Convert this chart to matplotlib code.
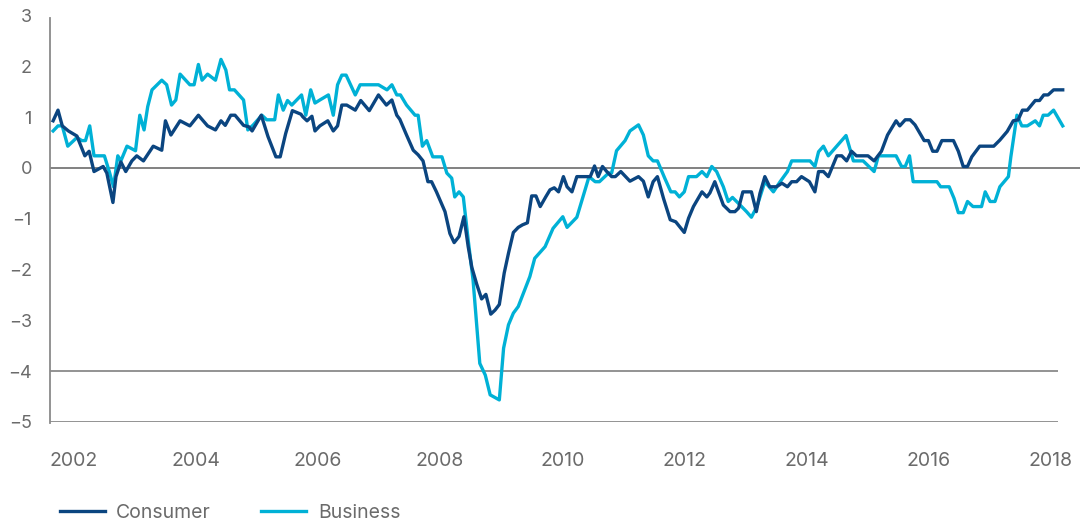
import numpy as np
import matplotlib
matplotlib.use("Agg")
import matplotlib.pyplot as plt

plt.rcParams['font.family'] = ['Inter', 'DejaVu Sans']

# consumer confidence (standardised) as (decimal year, value)
consumer_t = [2001.66, 2001.74, 2001.81, 2001.91, 2002.05, 2002.18, 2002.25, 2002.33, 2002.48, 2002.54,
              2002.64, 2002.69, 2002.77, 2002.85, 2002.95, 2003.03, 2003.14, 2003.30, 2003.44, 2003.50,
              2003.59, 2003.74, 2003.90, 2004.04, 2004.19, 2004.32, 2004.41, 2004.48, 2004.57, 2004.64,
              2004.78, 2004.87, 2004.92, 2005.07, 2005.18, 2005.31, 2005.38, 2005.47, 2005.58, 2005.72,
              2005.75, 2005.82, 2005.90, 2005.95, 2006.03, 2006.16, 2006.25, 2006.32, 2006.39, 2006.47,
              2006.61, 2006.70, 2006.84, 2006.99, 2007.12, 2007.21, 2007.29, 2007.34, 2007.45, 2007.56,
              2007.64, 2007.72, 2007.80, 2007.86, 2007.94, 2008.08, 2008.16, 2008.23, 2008.31, 2008.39,
              2008.46, 2008.52, 2008.60, 2008.68, 2008.75, 2008.83, 2008.90, 2008.97, 2009.05, 2009.12,
              2009.20, 2009.28, 2009.35, 2009.43, 2009.50, 2009.57, 2009.64, 2009.73, 2009.80, 2009.87,
              2009.94, 2010.02, 2010.08, 2010.16, 2010.24, 2010.46, 2010.53, 2010.59, 2010.66, 2010.73,
              2010.81, 2010.87, 2010.96, 2011.11, 2011.25, 2011.33, 2011.41, 2011.49, 2011.56, 2011.66,
              2011.77, 2011.86, 2012.00, 2012.07, 2012.15, 2012.29, 2012.37, 2012.42, 2012.50, 2012.64,
              2012.75, 2012.83, 2012.89, 2012.96, 2013.10, 2013.18, 2013.24, 2013.32, 2013.40, 2013.51,
              2013.60, 2013.69, 2013.76, 2013.84, 2013.92, 2014.05, 2014.14, 2014.20, 2014.28, 2014.36,
              2014.50, 2014.58, 2014.66, 2014.74, 2014.82, 2015.01, 2015.11, 2015.23, 2015.33, 2015.47,
              2015.53, 2015.62, 2015.70, 2015.78, 2015.93, 2016.00, 2016.07, 2016.14, 2016.22, 2016.41,
              2016.49, 2016.57, 2016.64, 2016.71, 2016.84, 2017.07, 2017.17, 2017.29, 2017.39, 2017.47,
              2017.54, 2017.62, 2017.75, 2017.82, 2017.89, 2017.96, 2018.05, 2018.20]
consumer_v = [0.93, 1.14, 0.83, 0.73, 0.63, 0.24, 0.33, -0.07, 0.03, -0.10,
              -0.68, -0.17, 0.12, -0.07, 0.14, 0.24, 0.14, 0.43, 0.35, 0.93,
              0.65, 0.93, 0.83, 1.04, 0.83, 0.75, 0.93, 0.84, 1.04, 1.04,
              0.84, 0.81, 0.73, 1.04, 0.62, 0.22, 0.22, 0.68, 1.13, 1.06,
              1.01, 0.93, 1.02, 0.73, 0.83, 0.93, 0.73, 0.83, 1.24, 1.24,
              1.14, 1.33, 1.13, 1.44, 1.24, 1.34, 1.04, 0.96, 0.65, 0.35,
              0.26, 0.14, -0.27, -0.27, -0.47, -0.86, -1.29, -1.47, -1.35, -0.96,
              -1.55, -1.96, -2.29, -2.58, -2.49, -2.88, -2.80, -2.69, -2.07, -1.68,
              -1.27, -1.17, -1.12, -1.08, -0.55, -0.55, -0.76, -0.57, -0.43, -0.39,
              -0.47, -0.17, -0.37, -0.47, -0.17, -0.17, 0.04, -0.17, 0.03, -0.07,
              -0.17, -0.17, -0.07, -0.26, -0.17, -0.26, -0.57, -0.27, -0.17, -0.60,
              -1.02, -1.06, -1.27, -0.99, -0.76, -0.47, -0.57, -0.49, -0.27, -0.73,
              -0.86, -0.86, -0.79, -0.47, -0.47, -0.86, -0.50, -0.17, -0.37, -0.37,
              -0.30, -0.37, -0.27, -0.27, -0.17, -0.27, -0.47, -0.07, -0.07, -0.17,
              0.24, 0.24, 0.14, 0.33, 0.24, 0.24, 0.14, 0.33, 0.65, 0.93,
              0.83, 0.95, 0.95, 0.85, 0.54, 0.54, 0.33, 0.33, 0.54, 0.54,
              0.33, 0.03, 0.03, 0.22, 0.43, 0.43, 0.55, 0.72, 0.93, 0.95,
              1.14, 1.14, 1.33, 1.33, 1.44, 1.44, 1.54, 1.54]

# business confidence
business_t = [2001.66, 2001.74, 2001.81, 2001.90, 2002.05, 2002.13, 2002.19, 2002.26, 2002.33, 2002.50,
              2002.58, 2002.65, 2002.72, 2002.77, 2002.87, 2003.01, 2003.08, 2003.15, 2003.21, 2003.28,
              2003.44, 2003.52, 2003.60, 2003.67, 2003.74, 2003.90, 2003.97, 2004.04, 2004.10, 2004.19,
              2004.32, 2004.41, 2004.49, 2004.55, 2004.63, 2004.78, 2004.85, 2004.94, 2005.08, 2005.16,
              2005.29, 2005.35, 2005.43, 2005.50, 2005.57, 2005.73, 2005.80, 2005.88, 2005.95, 2006.03,
              2006.17, 2006.25, 2006.32, 2006.39, 2006.46, 2006.61, 2006.69, 2006.99, 2007.13, 2007.21,
              2007.29, 2007.35, 2007.45, 2007.59, 2007.64, 2007.71, 2007.78, 2007.88, 2008.03, 2008.11,
              2008.19, 2008.24, 2008.31, 2008.38, 2008.46, 2008.54, 2008.65, 2008.74, 2008.82, 2008.97,
              2009.04, 2009.12, 2009.20, 2009.28, 2009.47, 2009.55, 2009.72, 2009.85, 2010.01, 2010.08,
              2010.24, 2010.35, 2010.44, 2010.54, 2010.61, 2010.76, 2010.81, 2010.89, 2011.03, 2011.11,
              2011.25, 2011.33, 2011.41, 2011.49, 2011.56, 2011.68, 2011.78, 2011.85, 2011.92, 2012.00,
              2012.07, 2012.20, 2012.29, 2012.37, 2012.45, 2012.53, 2012.64, 2012.72, 2012.79, 2012.89,
              2013.02, 2013.10, 2013.19, 2013.32, 2013.46, 2013.57, 2013.69, 2013.76, 2014.06, 2014.14,
              2014.20, 2014.28, 2014.36, 2014.65, 2014.77, 2014.93, 2015.11, 2015.18, 2015.47, 2015.56,
              2015.62, 2015.69, 2015.75, 2016.14, 2016.20, 2016.34, 2016.42, 2016.49, 2016.57, 2016.64,
              2016.73, 2016.87, 2016.93, 2017.01, 2017.09, 2017.17, 2017.31, 2017.35, 2017.45, 2017.53,
              2017.62, 2017.75, 2017.82, 2017.88, 2017.96, 2018.05, 2018.20]
business_v = [0.73, 0.83, 0.83, 0.43, 0.60, 0.54, 0.54, 0.83, 0.24, 0.24,
              -0.07, -0.37, 0.24, 0.14, 0.43, 0.34, 1.04, 0.75, 1.21, 1.54,
              1.73, 1.64, 1.24, 1.34, 1.85, 1.64, 1.64, 2.04, 1.73, 1.85,
              1.73, 2.14, 1.93, 1.54, 1.54, 1.34, 0.75, 0.85, 1.04, 0.95,
              0.95, 1.44, 1.14, 1.33, 1.24, 1.44, 1.04, 1.54, 1.28, 1.34,
              1.44, 1.04, 1.64, 1.83, 1.83, 1.44, 1.64, 1.64, 1.54, 1.64,
              1.44, 1.44, 1.24, 1.04, 1.04, 0.43, 0.54, 0.22, 0.22, -0.10,
              -0.20, -0.57, -0.47, -0.57, -1.42, -2.21, -3.85, -4.08, -4.47, -4.57,
              -3.55, -3.09, -2.86, -2.73, -2.14, -1.78, -1.55, -1.19, -0.96, -1.17,
              -0.97, -0.53, -0.17, -0.27, -0.27, -0.10, -0.10, 0.34, 0.54, 0.73,
              0.85, 0.65, 0.24, 0.14, 0.14, -0.20, -0.47, -0.47, -0.57, -0.47,
              -0.17, -0.17, -0.07, -0.17, 0.03, -0.07, -0.37, -0.66, -0.58, -0.70,
              -0.86, -0.97, -0.76, -0.27, -0.47, -0.27, -0.07, 0.14, 0.14, 0.03,
              0.32, 0.43, 0.24, 0.64, 0.14, 0.14, -0.07, 0.24, 0.24, 0.03,
              0.03, 0.24, -0.27, -0.27, -0.37, -0.37, -0.60, -0.88, -0.88, -0.66,
              -0.76, -0.76, -0.47, -0.66, -0.66, -0.37, -0.17, 0.22, 1.04, 0.83,
              0.83, 0.93, 0.83, 1.04, 1.04, 1.14, 0.83]

years = [2002, 2004, 2006, 2008, 2010, 2012, 2014, 2016, 2018]
y_ticks = [3, 2, 1, 0, -1, -2, -3, -4, -5]

navy = '#0b4580'
cyan = '#00b1d6'
grey = '#6b6b6b'

fig = plt.figure(figsize=(10.88, 5.23), dpi=100)
ax = fig.add_axes([50 / 1088, 1 - 421.75 / 523, 1030 / 1088, 406 / 523])

x_left, x_right, x_line_end = 2001.609, 2018.483, 2018.122

ax.axhline(0, color='#777777', lw=1.3, zorder=1)
ax.hlines([-4, -5], x_left, x_line_end, color='#8a8a8a', lw=1.3, zorder=1)

ax.plot(consumer_t, consumer_v, color=navy, lw=2.4, label='Consumer', zorder=3)
ax.plot(business_t, business_v, color=cyan, lw=2.4, label='Business', zorder=2)

ax.set_xlim(x_left, x_right)
ax.set_ylim(-5, 3)
ax.set_xticks(years)
ax.set_xticklabels([str(y) for y in years])
ax.set_yticks(y_ticks)
ax.set_yticklabels([str(v).replace('-', '\u2212') for v in y_ticks])

for s in ['top', 'right', 'bottom']:
    ax.spines[s].set_visible(False)
ax.spines['left'].set_color('#8a8a8a')
ax.spines['left'].set_linewidth(1.3)
ax.spines['left'].set_bounds(-5.03, 2.96)

ax.tick_params(axis='y', length=0, pad=13, labelsize=13, labelcolor=grey)
ax.tick_params(axis='x', length=0, pad=22, labelsize=14, labelcolor=grey)

fig.legend(loc='center left', bbox_to_anchor=(52 / 1088, 10 / 523), ncol=2, frameon=False,
           fontsize=14, labelcolor=grey, handlelength=2.3, handletextpad=0.6,
           columnspacing=2.6, borderaxespad=0)

fig.savefig('out.png', dpi=100)
